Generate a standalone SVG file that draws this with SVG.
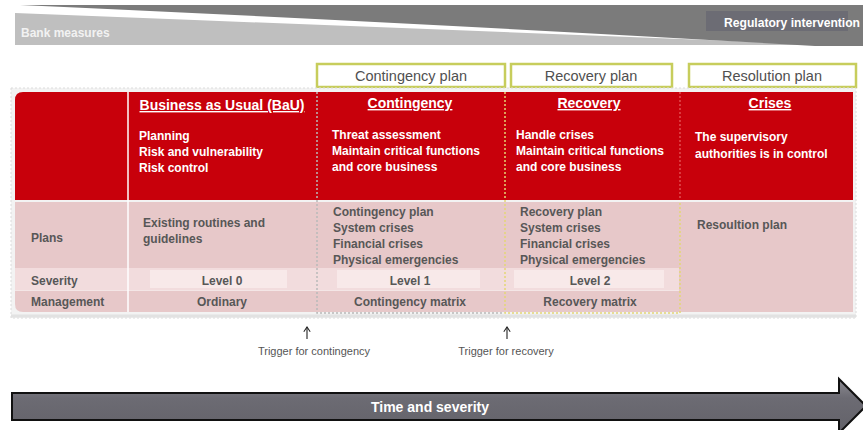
<svg xmlns="http://www.w3.org/2000/svg" width="863" height="430" viewBox="0 0 863 430">
<style>
text{font-family:"Liberation Sans",Arial,sans-serif}
.hd{fill:#fff;font-weight:bold;font-size:14px;text-decoration:underline}
.li{fill:#fff;font-weight:bold;font-size:12px}
.rw{fill:#575757;font-weight:bold;font-size:12px}
.pl{fill:#505050;font-size:14.5px}
.plbox{fill:#fff;stroke:#c7cd5c;stroke-width:2.5}
.tr{fill:#555;font-size:11px}
.dg{stroke:#b9b9b9;stroke-width:1.5;stroke-dasharray:2 2;fill:none}
.dy{stroke:#e4d676;stroke-width:1.5;stroke-dasharray:2 2;fill:none}
</style>
<defs>
<linearGradient id="bar" x1="0" y1="0" x2="0" y2="1">
<stop offset="0" stop-color="#8c8b92"/><stop offset="0.35" stop-color="#6c6b73"/><stop offset="1" stop-color="#636269"/>
</linearGradient>
<marker id="ah" viewBox="0 0 10 10" refX="9" refY="5" markerWidth="8" markerHeight="8" orient="auto" markerUnits="userSpaceOnUse">
<path d="M3,1 L9,5 L3,9" fill="none" stroke="#222" stroke-width="1.3"/>
</marker>
</defs>
<g id="banner">
<path d="M15,13 Q450,30 835,45 L15,45 Z" fill="#bfbfbf"/>
<path d="M20,5 L863,5 L863,46 L815,46 Q440,24 20,5 Z" fill="#7b7b7b"/>
<text x="21" y="37" font-size="12" font-weight="bold" fill="#f2f2f2">Bank measures</text>
<rect x="706" y="11" width="142" height="20" fill="#6c6c74"/>
<text x="724" y="27" font-size="12" font-weight="bold" fill="#fff" textLength="136" lengthAdjust="spacingAndGlyphs">Regulatory intervention</text>
</g>
<g id="plan-boxes">
<g id="contingency-plan"><rect class="plbox" x="317" y="64" width="188" height="23"/><text class="pl" x="411" y="81" text-anchor="middle">Contingency plan</text></g>
<g id="recovery-plan"><rect class="plbox" x="511" y="64" width="161" height="23"/><text class="pl" x="591" y="81" text-anchor="middle">Recovery plan</text></g>
<g id="resolution-plan"><rect class="plbox" x="689" y="64" width="167" height="23"/><text class="pl" x="772" y="81" text-anchor="middle">Resolution plan</text></g>
</g>
<g id="table">
<rect x="11" y="88" width="845" height="230" fill="#f3f3f3" stroke="#dcdcdc" stroke-dasharray="2 2"/>
<path d="M15,100 Q15,92 23,92 L853,92 L853,200 L15,200 Z" fill="#c8000b"/>
<path d="M15,202 L853,202 L853,312 L23,312 Q15,312 15,304 Z" fill="#e7c8c9"/>
<rect x="15" y="268" width="664" height="22" fill="#f2dcdd"/>
<rect x="150" y="270" width="137" height="18" fill="#f8e9e9"/>
<rect x="337" y="270" width="143" height="18" fill="#f8e9e9"/>
<rect x="514" y="270" width="150" height="18" fill="#f8e9e9"/>
<line x1="15" y1="290.5" x2="679" y2="290.5" stroke="#f4e6e6" stroke-width="1"/>
<line x1="128" y1="92" x2="128" y2="312" stroke="#fff" stroke-width="1.5"/>
<path class="dg" d="M317,92 V313 H504"/>
<path class="dy" d="M505,92 V313 H680 V202"/>
<line x1="680" y1="92" x2="680" y2="200" stroke="#e86060" stroke-width="1.2" stroke-dasharray="2 2"/>
<line x1="11" y1="316" x2="856" y2="316" stroke="#e2e2e2" stroke-width="3"/>
</g>
<g id="col-labels">
<text class="rw" x="31" y="242">Plans</text>
<text class="rw" x="31" y="285">Severity</text>
<text class="rw" x="31" y="306">Management</text>
</g>
<g id="bau">
<text class="hd" x="222" y="110" text-anchor="middle">Business as Usual (BaU)</text>
<text class="li" x="139" y="140">Planning</text>
<text class="li" x="139" y="156">Risk and vulnerability</text>
<text class="li" x="139" y="172">Risk control</text>
<text class="rw" x="143" y="227">Existing routines and</text>
<text class="rw" x="143" y="243">guidelines</text>
<text class="rw" x="222" y="285" text-anchor="middle">Level 0</text>
<text class="rw" x="222" y="306" text-anchor="middle">Ordinary</text>
</g>
<g id="contingency">
<text class="hd" x="410" y="108" text-anchor="middle">Contingency</text>
<text class="li" x="332" y="139">Threat assessment</text>
<text class="li" x="332" y="155">Maintain critical functions</text>
<text class="li" x="332" y="171">and core business</text>
<text class="rw" x="333" y="216">Contingency plan</text>
<text class="rw" x="333" y="232">System crises</text>
<text class="rw" x="333" y="248">Financial crises</text>
<text class="rw" x="333" y="264">Physical emergencies</text>
<text class="rw" x="410" y="285" text-anchor="middle">Level 1</text>
<text class="rw" x="410" y="306" text-anchor="middle">Contingency matrix</text>
</g>
<g id="recovery">
<text class="hd" x="589" y="108" text-anchor="middle">Recovery</text>
<text class="li" x="516" y="139">Handle crises</text>
<text class="li" x="516" y="155">Maintain critical functions</text>
<text class="li" x="516" y="171">and core business</text>
<text class="rw" x="520" y="216">Recovery plan</text>
<text class="rw" x="520" y="232">System crises</text>
<text class="rw" x="520" y="248">Financial crises</text>
<text class="rw" x="520" y="264">Physical emergencies</text>
<text class="rw" x="590" y="285" text-anchor="middle">Level 2</text>
<text class="rw" x="590" y="306" text-anchor="middle">Recovery matrix</text>
</g>
<g id="crises">
<text class="hd" x="770" y="108" text-anchor="middle">Crises</text>
<text class="li" x="695" y="141">The supervisory</text>
<text class="li" x="695" y="158">authorities is in control</text>
<text class="rw" x="697" y="229">Resoultion plan</text>
</g>
<g id="connectors">
<line x1="307" y1="339" x2="307" y2="327" stroke="#222" stroke-width="1.1" marker-end="url(#ah)"/>
<line x1="507" y1="339" x2="507" y2="327" stroke="#222" stroke-width="1.1" marker-end="url(#ah)"/>
</g>
<g id="triggers">
<text class="tr" x="314" y="355" text-anchor="middle">Trigger for contingency</text>
<text class="tr" x="506" y="355" text-anchor="middle">Trigger for recovery</text>
</g>
<g id="time-arrow">
<path d="M12,393 L839,393 L839,379 L866,406 L839,433 L839,420 L12,420 Z" fill="url(#bar)" stroke="#111" stroke-width="2"/>
<text x="430" y="412" text-anchor="middle" font-size="14" font-weight="bold" fill="#fff">Time and severity</text>
</g>
</svg>
